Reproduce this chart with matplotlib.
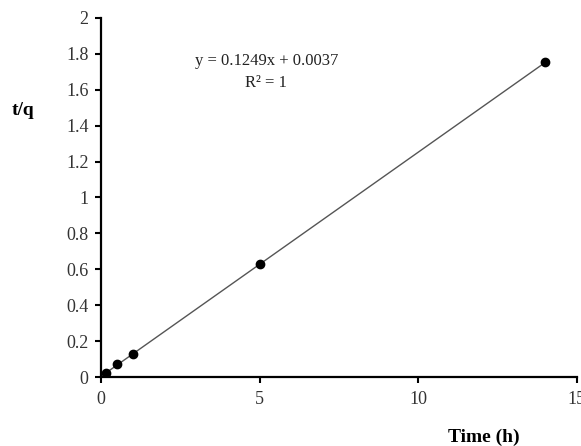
import numpy as np
import matplotlib.pyplot as plt

# data
time_h = [0.167, 0.5, 1, 5, 14]
t_over_q = [0.025, 0.07, 0.13, 0.63, 1.752]
slope = 0.1249
intercept = 0.0037
eq_line1 = "y = 0.1249x + 0.0037"
eq_line2 = "R\u00b2 = 1"
xticks = [0, 5, 10, 15]
yticks = [0, 0.2, 0.4, 0.6, 0.8, 1, 1.2, 1.4, 1.6, 1.8, 2]

plt.rcParams['font.family'] = ['Liberation Serif', 'DejaVu Serif']

fig = plt.figure(figsize=(5.81, 4.46), dpi=100)
ax = fig.add_axes([0.174, 0.1547, 0.819, 0.805])

# trendline over data range
xf = np.array([time_h[0], time_h[-1]])
ax.plot(xf, slope*xf + intercept, color='#555555', lw=1.0, zorder=2)
ax.plot(time_h, t_over_q, 'o', color='black', ms=6, zorder=3)

ax.set_xlim(0, 15)
ax.set_ylim(0, 2)
ax.set_xticks(xticks)
ax.set_yticks(yticks)
ax.set_yticklabels([f"{v:g}" for v in yticks])
ax.tick_params(direction='out', length=4, width=1.5, labelsize=13,
               labelcolor='#333333', color='black')
ax.tick_params(axis='y', pad=5)
ax.tick_params(axis='x', pad=6)
for s in ['top', 'right']:
    ax.spines[s].set_visible(False)
for s in ['left', 'bottom']:
    ax.spines[s].set_linewidth(1.6)

ax.text(0.347, 0.880, eq_line1, transform=ax.transAxes, ha='center', va='center',
        fontsize=12, color='#222222')
ax.text(0.347, 0.819, eq_line2, transform=ax.transAxes, ha='center', va='center',
        fontsize=12, color='#222222')

fig.text(0.040, 0.753, "t/q", fontsize=14, fontweight='bold', ha='center', va='center')
fig.text(0.832, 0.020, "Time (h)", fontsize=14, fontweight='bold', ha='center', va='center')

fig.savefig("out.png", dpi=100)
